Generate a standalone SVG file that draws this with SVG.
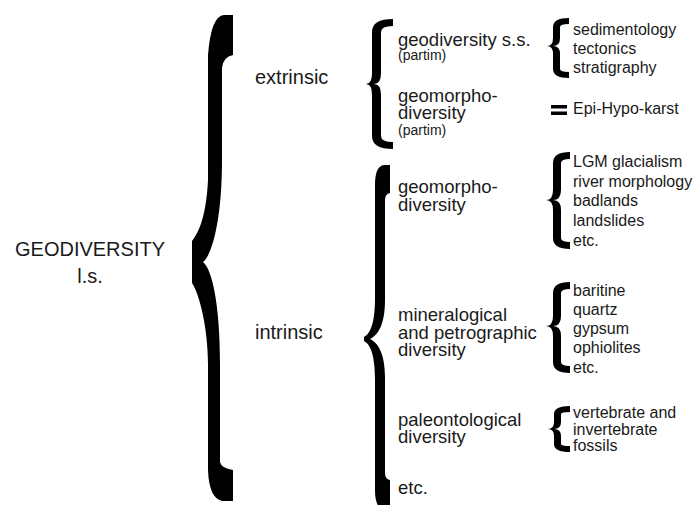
<svg xmlns="http://www.w3.org/2000/svg" width="694" height="505" viewBox="0 0 694 505">
<style>
text{font-family:"Liberation Sans",Arial,sans-serif;fill:#1a1a1a}
.t1{font-size:20px}
.t2{font-size:18.5px}
.t3{font-size:16px}
.sm{font-size:14px}
.br{fill:#000;stroke:none}
</style>
<rect width="694" height="505" fill="#fff"/>
<g id="connectors">
<path class="br" d="M233,15 L233,55 Q223,57 222,68 L222,160 C222,220 212,255 203,262 C212,269 220,304 220,364 L220,462 Q221,468 233,470 L233,501 L222,501 Q209,498 208,470 L208,364 C208,330 200,295 192,283 L192,241 C196,236 206,222 208,180 L208,55 Q211,16 224,15 Z"/>
<path class="br" d="M393,19 Q372,19 372,32 L372,73 Q372,84 366,84 Q372,84 372,95 L372,136 Q372,149 393,149 L393,142 Q381,142 381,136 L381,95 Q381,84 374,84 Q381,84 381,73 L381,32 Q381,26 393,26 Z"/>
<path class="br" d="M390,165 L390,193 Q385,194 385,200 L385,300 C385,325 378,335 370,339 C378,343 385,353 385,378 L385,473 Q385,479 390,480 L390,510 L384,510 Q375,508 375,490 L375,380 C375,360 372,345 364,341 L364,337 C372,333 375,318 375,298 L375,185 Q375,166 384,165 Z"/>
<path class="br" d="M569,18 Q553,18 553,27 L553,38 Q553,46 547,46 Q553,46 553,54 L553,69 Q553,78 569,78 L569,72 Q560,72 560,69 L560,54 Q560,46 553,46 Q560,46 560,38 L560,27 Q560,24 569,24 Z"/>
<rect class="br" x="551" y="105" width="16" height="3.5"/>
<rect class="br" x="551" y="111.5" width="16" height="3.5"/>
<path class="br" d="M570,152 Q553,152 553,163 L553,190 Q553,200 546,200 Q553,200 553,210 L553,238 Q553,249 570,249 L570,242 Q561,242 561,238 L561,210 Q561,200 553,200 Q561,200 561,190 L561,163 Q561,159 570,159 Z"/>
<path class="br" d="M570,282 Q553,282 553,293 L553,316 Q553,326 546,326 Q553,326 553,336 L553,362 Q553,373 570,373 L570,366 Q561,366 561,362 L561,336 Q561,326 553,326 Q561,326 561,316 L561,293 Q561,289 570,289 Z"/>
<path class="br" d="M570,406 Q554,406 554,414 L554,422 Q554,429 548,429 Q554,429 554,436 L554,444 Q554,452 570,452 L570,446 Q561,446 561,444 L561,436 Q561,429 554,429 Q561,429 561,422 L561,414 Q561,412 570,412 Z"/>
</g>
<g id="geodiversity">
<text class="t1" x="90" y="256" text-anchor="middle">GEODIVERSITY</text>
<text class="t1" x="90" y="283" text-anchor="middle">l.s.</text>
</g>
<g id="extrinsic"><text class="t1" x="255" y="84">extrinsic</text></g>
<g id="intrinsic"><text class="t1" x="255" y="339">intrinsic</text></g>
<g id="geodiversity-ss">
<text class="t2" x="398" y="46">geodiversity s.s.</text>
<text class="sm" x="398" y="60">(partim)</text>
</g>
<g id="geomorpho-ext">
<text class="t2" x="398" y="102">geomorpho-</text>
<text class="t2" x="398" y="119">diversity</text>
<text class="sm" x="398" y="135">(partim)</text>
</g>
<g id="geomorpho-int">
<text class="t2" x="398" y="193">geomorpho-</text>
<text class="t2" x="398" y="211">diversity</text>
</g>
<g id="mineralogical">
<text class="t2" x="398" y="321">mineralogical</text>
<text class="t2" x="398" y="339">and petrographic</text>
<text class="t2" x="398" y="356">diversity</text>
</g>
<g id="paleontological">
<text class="t2" x="398" y="426">paleontological</text>
<text class="t2" x="398" y="443">diversity</text>
</g>
<g id="etc-int"><text class="t2" x="398" y="494">etc.</text></g>
<g id="ss-list">
<text class="t3" x="573" y="35">sedimentology</text>
<text class="t3" x="573" y="54">tectonics</text>
<text class="t3" x="573" y="73">stratigraphy</text>
</g>
<g id="karst"><text class="t3" x="573" y="114">Epi-Hypo-karst</text></g>
<g id="geomorpho-list">
<text class="t3" x="573" y="167">LGM glacialism</text>
<text class="t3" x="573" y="187">river morphology</text>
<text class="t3" x="573" y="206">badlands</text>
<text class="t3" x="573" y="226">landslides</text>
<text class="t3" x="573" y="246">etc.</text>
</g>
<g id="mineral-list">
<text class="t3" x="573" y="296">baritine</text>
<text class="t3" x="573" y="315">quartz</text>
<text class="t3" x="573" y="334">gypsum</text>
<text class="t3" x="573" y="353">ophiolites</text>
<text class="t3" x="573" y="373">etc.</text>
</g>
<g id="fossil-list">
<text class="t3" x="573" y="418">vertebrate and</text>
<text class="t3" x="573" y="435">invertebrate</text>
<text class="t3" x="573" y="451">fossils</text>
</g>
</svg>
